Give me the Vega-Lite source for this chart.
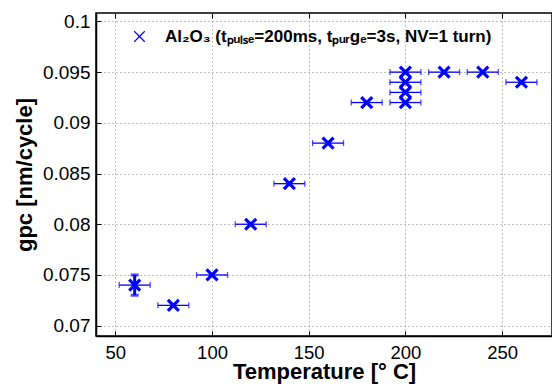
{
  "$schema": "https://vega.github.io/schema/vega-lite/v6.json",
  "autosize": {"type": "none"},
  "padding": {"left": 96, "top": 13, "right": 0, "bottom": 51},
  "width": 456,
  "height": 323,
  "background": "white",
  "config": {
    "font": "Liberation Sans",
    "view": {"stroke": "black", "strokeWidth": 1.5},
    "axis": {
      "domainColor": "black", "domainWidth": 1.5,
      "tickColor": "black", "tickSize": -5, "tickWidth": 1,
      "labelColor": "black", "labelFont": "Liberation Sans", "labelFontSize": 19,
      "titleFont": "Liberation Sans", "titleFontSize": 22, "titleFontWeight": "bold", "titleColor": "black",
      "gridColor": "#808080", "gridDash": [1, 3], "gridWidth": 1, "gridOpacity": 1
    }
  },
  "datasets": {
    "pts": [
      {"T": 60, "gpc": 0.074, "Tlo": 52, "Thi": 68},
      {"T": 80, "gpc": 0.072, "Tlo": 72, "Thi": 88},
      {"T": 100, "gpc": 0.075, "Tlo": 92, "Thi": 108},
      {"T": 120, "gpc": 0.080, "Tlo": 112, "Thi": 128},
      {"T": 140, "gpc": 0.084, "Tlo": 132, "Thi": 148},
      {"T": 160, "gpc": 0.088, "Tlo": 152, "Thi": 168},
      {"T": 180, "gpc": 0.092, "Tlo": 172, "Thi": 188},
      {"T": 200, "gpc": 0.095, "Tlo": 192, "Thi": 208},
      {"T": 200, "gpc": 0.094, "Tlo": 192, "Thi": 208},
      {"T": 200, "gpc": 0.093, "Tlo": 192, "Thi": 208},
      {"T": 200, "gpc": 0.092, "Tlo": 192, "Thi": 208},
      {"T": 220, "gpc": 0.095, "Tlo": 212, "Thi": 228},
      {"T": 240, "gpc": 0.095, "Tlo": 232, "Thi": 248},
      {"T": 260, "gpc": 0.094, "Tlo": 252, "Thi": 268}
    ],
    "yerr": [
      {"T": 60, "lo": 0.073, "hi": 0.075}
    ]
  },
  "resolve": {"scale": {"x": "independent"}, "axis": {"x": "independent"}},
  "layer": [
    {
      "data": {"name": "pts"},
      "mark": {"type": "rule", "color": "#0000ff", "strokeWidth": 1.3},
      "encoding": {
        "x": {"field": "Tlo", "type": "quantitative", "scale": {"domain": [40, 275.8], "nice": false, "zero": false},
              "axis": {"orient": "top", "values": [50, 100, 150, 200, 250], "labels": false, "grid": false, "title": null, "domainOpacity": 0}},
        "x2": {"field": "Thi"},
        "y": {"field": "gpc", "type": "quantitative", "scale": {"domain": [0.06898, 0.10083], "nice": false, "zero": false},
              "axis": {"values": [0.07, 0.075, 0.08, 0.085, 0.09, 0.095, 0.1], "format": "~g", "title": "gpc [nm/cycle]", "labelPadding": 11, "titlePadding": 6, "grid": true}}
      }
    },
    {
      "data": {"name": "pts"},
      "mark": {"type": "tick", "orient": "vertical", "color": "#0000ff", "size": 6, "thickness": 1.3},
      "encoding": {
        "x": {"field": "Tlo", "type": "quantitative", "scale": {"domain": [40, 275.8], "nice": false, "zero": false}, "axis": null},
        "y": {"field": "gpc", "type": "quantitative"}
      }
    },
    {
      "data": {"name": "pts"},
      "mark": {"type": "tick", "orient": "vertical", "color": "#0000ff", "size": 6, "thickness": 1.3},
      "encoding": {
        "x": {"field": "Thi", "type": "quantitative", "scale": {"domain": [40, 275.8], "nice": false, "zero": false}, "axis": null},
        "y": {"field": "gpc", "type": "quantitative"}
      }
    },
    {
      "data": {"name": "yerr"},
      "mark": {"type": "rule", "color": "#0000ff", "strokeWidth": 3},
      "encoding": {
        "x": {"field": "T", "type": "quantitative", "scale": {"domain": [40, 275.8], "nice": false, "zero": false}, "axis": null},
        "y": {"field": "lo", "type": "quantitative"},
        "y2": {"field": "hi"}
      }
    },
    {
      "data": {"name": "yerr"},
      "mark": {"type": "tick", "orient": "horizontal", "color": "#0000ff", "size": 8, "thickness": 3},
      "encoding": {
        "x": {"field": "T", "type": "quantitative", "scale": {"domain": [40, 275.8], "nice": false, "zero": false}, "axis": null},
        "y": {"field": "lo", "type": "quantitative"}
      }
    },
    {
      "data": {"name": "yerr"},
      "mark": {"type": "tick", "orient": "horizontal", "color": "#0000ff", "size": 8, "thickness": 3},
      "encoding": {
        "x": {"field": "T", "type": "quantitative", "scale": {"domain": [40, 275.8], "nice": false, "zero": false}, "axis": null},
        "y": {"field": "hi", "type": "quantitative"}
      }
    },
    {
      "data": {"name": "pts"},
      "mark": {"type": "point", "shape": "M-1,-1L1,1M-1,1L1,-1", "filled": false, "strokeWidth": 3.2, "size": 120, "opacity": 1},
      "encoding": {
        "x": {"field": "T", "type": "quantitative", "scale": {"domain": [40, 275.8], "nice": false, "zero": false},
              "axis": {"values": [50, 100, 150, 200, 250], "title": "Temperature [° C]", "labelFontSize": 18.5, "labelPadding": 12, "titlePadding": 0, "grid": true}},
        "y": {"field": "gpc", "type": "quantitative"},
        "stroke": {
          "datum": "Al₂O₃ (tₚᵤₗₛₑ=200ms, tₚᵤᵣgₑ=3s, NV=1 turn)",
          "type": "nominal",
          "scale": {"range": ["#0000ff"]},
          "legend": {
            "orient": "none", "legendX": 35, "legendY": 15, "title": null, "padding": 0,
            "symbolType": "M-1,-1L1,1M-1,1L1,-1", "symbolSize": 110, "symbolStrokeWidth": 1.2, "symbolStrokeColor": "#0000ff",
            "labelFont": "Liberation Sans", "labelFontSize": 17, "labelFontWeight": "bold", "labelColor": "black", "labelOffset": 17, "labelLimit": 500
          }
        }
      }
    }
  ]
}
